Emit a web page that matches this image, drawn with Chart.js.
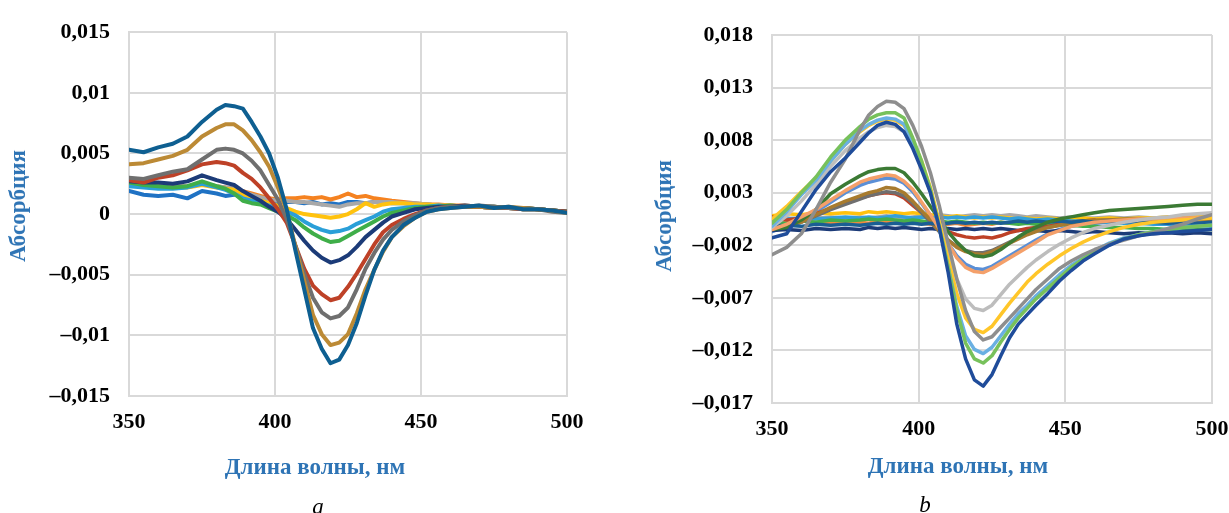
<!DOCTYPE html>
<html lang="ru">
<head>
<meta charset="utf-8">
<title>Абсорбция</title>
<script src="https://cdn.jsdelivr.net/npm/chart.js@4.4.1/dist/chart.umd.min.js"></script>
<style>
  html, body { margin: 0; padding: 0; background: #fff; }
  #page { position: relative; width: 1229px; height: 513px; overflow: hidden; }
  canvas { position: absolute; top: 0; }
  #chartA { left: 0; }
  #chartB { left: 614px; }
  .lbl { position: absolute; font-family: "Liberation Serif", serif; font-weight: bold; font-size: 23px;
         color: #2E74B5; white-space: nowrap; transform: translate(-50%, -50%); }
  .ylbl { transform: translate(-50%, -50%) rotate(-90deg); }
  .cap { position: absolute; font-family: "Liberation Serif", serif; font-style: italic; font-size: 23px;
         color: #000; transform: translate(-50%, -50%); }
</style>
</head>
<body>
<div id="page">
  <canvas id="chartA" width="614" height="513"></canvas>
  <canvas id="chartB" width="640" height="513"></canvas>
  <div class="lbl ylbl" style="left:18px; top:206px">Абсорбция</div>
  <div class="lbl" style="left:315px; top:467px">Длина волны, нм</div>
  <div class="cap" style="left:318px; top:507px">a</div>
  <div class="lbl ylbl" style="left:664px; top:216px">Абсорбция</div>
  <div class="lbl" style="left:958px; top:466px">Длина волны, нм</div>
  <div class="cap" style="left:925px; top:505px">b</div>
</div>
<script>
// ---------- SHARED X VALUES (nm) ----------
const wavelengths = [350, 355, 360, 365, 370, 375, 380, 383, 386, 389, 392, 395, 398, 401, 404, 407, 410, 413, 416, 419,
                     422, 425, 428, 431, 434, 437, 440, 444, 448, 452, 456, 460, 465, 470, 475, 480, 485, 490, 495, 500];
const xTicks = [350, 400, 450, 500];

// ---------- PANEL A ----------
const yTicksA = [-0.015, -0.01, -0.005, 0, 0.005, 0.01, 0.015];

const a1 = [0.0019, 0.0016, 0.0015, 0.0016, 0.0013, 0.0019, 0.0017, 0.0015, 0.0016, 0.0014, 0.0013, 0.0012, 0.0011, 0.0010, 0.0010, 0.0010, 0.0009, 0.0010, 0.0008, 0.0009,
            0.0008, 0.0010, 0.0010, 0.0009, 0.0010, 0.0010, 0.0009, 0.0009, 0.0008, 0.0008, 0.0007, 0.0007, 0.0006, 0.0006, 0.0005, 0.0005, 0.0004, 0.0004, 0.0003, 0.0002];
const a2 = [0.0025, 0.0024, 0.0024, 0.0023, 0.0023, 0.0025, 0.0023, 0.0022, 0.0021, 0.0019, 0.0017, 0.0015, 0.0013, 0.0012, 0.0013, 0.0013, 0.0014, 0.0013, 0.0014, 0.0012,
            0.0014, 0.0017, 0.0014, 0.0015, 0.0013, 0.0012, 0.0011, 0.0010, 0.0009, 0.0008, 0.0008, 0.0007, 0.0007, 0.0006, 0.0006, 0.0005, 0.0005, 0.0004, 0.0003, 0.0002];
const a3 = [0.0026, 0.0025, 0.0024, 0.0023, 0.0023, 0.0025, 0.0023, 0.0022, 0.0021, 0.0018, 0.0016, 0.0014, 0.0012, 0.0011, 0.0011, 0.0010, 0.0010, 0.0009, 0.0008, 0.0007,
            0.0006, 0.0008, 0.0009, 0.0009, 0.0010, 0.0010, 0.0010, 0.0009, 0.0009, 0.0008, 0.0007, 0.0007, 0.0006, 0.0006, 0.0005, 0.0005, 0.0004, 0.0004, 0.0003, 0.0002];
const a4 = [0.0025, 0.0024, 0.0023, 0.0022, 0.0022, 0.0024, 0.0022, 0.0021, 0.0020, 0.0016, 0.0013, 0.0011, 0.0009, 0.0007, 0.0005, 0.0002, 0.0000, -0.0001, -0.0002, -0.0003,
            -0.0002, 0.0000, 0.0004, 0.0009, 0.0006, 0.0008, 0.0009, 0.0009, 0.0008, 0.0008, 0.0007, 0.0007, 0.0006, 0.0006, 0.0005, 0.0005, 0.0004, 0.0004, 0.0003, 0.0002];
const a5 = [0.0023, 0.0022, 0.0021, 0.0021, 0.0022, 0.0025, 0.0022, 0.0020, 0.0017, 0.0013, 0.0011, 0.0009, 0.0007, 0.0004, 0.0002, -0.0001, -0.0006, -0.0010, -0.0013, -0.0015,
            -0.0014, -0.0012, -0.0008, -0.0005, -0.0002, 0.0002, 0.0004, 0.0005, 0.0006, 0.0006, 0.0007, 0.0006, 0.0006, 0.0006, 0.0005, 0.0005, 0.0004, 0.0004, 0.0003, 0.0002];
const a6 = [0.0026, 0.0024, 0.0023, 0.0022, 0.0023, 0.0027, 0.0023, 0.0021, 0.0017, 0.0011, 0.0009, 0.0008, 0.0005, 0.0002, -0.0001, -0.0005, -0.0011, -0.0016, -0.0020, -0.0023,
            -0.0022, -0.0018, -0.0014, -0.0010, -0.0006, -0.0002, 0.0001, 0.0003, 0.0005, 0.0006, 0.0006, 0.0007, 0.0006, 0.0006, 0.0006, 0.0005, 0.0005, 0.0004, 0.0003, 0.0002];
const a7 = [0.0027, 0.0026, 0.0026, 0.0025, 0.0027, 0.0032, 0.0028, 0.0026, 0.0024, 0.0019, 0.0015, 0.0011, 0.0006, 0.0002, -0.0004, -0.0013, -0.0022, -0.0030, -0.0036, -0.0040,
            -0.0038, -0.0034, -0.0027, -0.0019, -0.0013, -0.0007, -0.0002, 0.0001, 0.0004, 0.0005, 0.0006, 0.0006, 0.0007, 0.0006, 0.0006, 0.0005, 0.0005, 0.0004, 0.0003, 0.0002];
const a8 = [0.0028, 0.0026, 0.0030, 0.0032, 0.0036, 0.0041, 0.0043, 0.0042, 0.0040, 0.0034, 0.0029, 0.0022, 0.0013, 0.0004, -0.0007, -0.0026, -0.0045, -0.0059, -0.0066, -0.0071,
            -0.0069, -0.0060, -0.0049, -0.0037, -0.0025, -0.0015, -0.0009, -0.0004, 0.0000, 0.0003, 0.0005, 0.0006, 0.0006, 0.0006, 0.0005, 0.0005, 0.0004, 0.0004, 0.0003, 0.0002];
const a9 = [0.0030, 0.0029, 0.0032, 0.0035, 0.0037, 0.0045, 0.0053, 0.0054, 0.0053, 0.0050, 0.0044, 0.0036, 0.0024, 0.0012, -0.0004, -0.0026, -0.0049, -0.0069, -0.0081, -0.0086,
            -0.0084, -0.0077, -0.0062, -0.0045, -0.0032, -0.0021, -0.0013, -0.0006, -0.0001, 0.0003, 0.0005, 0.0006, 0.0006, 0.0007, 0.0006, 0.0005, 0.0005, 0.0004, 0.0002, 0.0001];
const a10 = [0.0041, 0.0042, 0.0045, 0.0048, 0.0053, 0.0064, 0.0071, 0.0074, 0.0074, 0.0069, 0.0061, 0.0051, 0.0039, 0.0022, 0.0003, -0.0027, -0.0055, -0.0083, -0.0099, -0.0108,
             -0.0106, -0.0099, -0.0082, -0.0062, -0.0046, -0.0031, -0.0019, -0.0010, -0.0003, 0.0002, 0.0004, 0.0005, 0.0006, 0.0006, 0.0005, 0.0006, 0.0005, 0.0004, 0.0003, 0.0001];
const a11 = [0.0053, 0.0051, 0.0055, 0.0058, 0.0064, 0.0076, 0.0086, 0.0090, 0.0089, 0.0087, 0.0076, 0.0064, 0.0050, 0.0030, 0.0004, -0.0030, -0.0062, -0.0094, -0.0111, -0.0123,
             -0.0120, -0.0108, -0.0090, -0.0067, -0.0046, -0.0030, -0.0019, -0.0009, -0.0003, 0.0002, 0.0004, 0.0005, 0.0006, 0.0007, 0.0005, 0.0006, 0.0004, 0.0004, 0.0003, 0.0001];

const seriesA = [a1, a2, a3, a4, a5, a6, a7, a8, a9, a10, a11];
const colorsA = ["#1F72C4", "#F58220", "#A8A8A8", "#FFC20E", "#2A9FD8", "#3FAE49",
                 "#1C3B78", "#BE4127", "#6F6F6F", "#BC8A35", "#0E5F91"];

// ---------- PANEL B ----------
const yTicksB = [-0.017, -0.012, -0.007, -0.002, 0.003, 0.008, 0.013, 0.018];

const b1 = [-0.0007, -0.0002, 0.0005, 0.0012, 0.0021, 0.0030, 0.0037, 0.0040, 0.0042, 0.0044, 0.0043, 0.0039, 0.0031, 0.0020, 0.0008, -0.0005, -0.0018, -0.0030, -0.0038, -0.0042,
            -0.0043, -0.0040, -0.0035, -0.0030, -0.0025, -0.0020, -0.0015, -0.0009, -0.0005, -0.0002, 0.0000, 0.0001, 0.0002, 0.0003, 0.0003, 0.0004, 0.0004, 0.0004, 0.0005, 0.0005];
const b2 = [0.0002, 0.0001, 0.0003, 0.0002, 0.0001, 0.0003, 0.0002, 0.0001, 0.0003, 0.0002, 0.0001, 0.0002, 0.0003, 0.0001, 0.0000, -0.0001, 0.0000, 0.0001, -0.0001, 0.0000,
            0.0001, 0.0000, 0.0002, 0.0001, 0.0002, 0.0003, 0.0002, 0.0003, 0.0004, 0.0003, 0.0004, 0.0004, 0.0005, 0.0004, 0.0005, 0.0004, 0.0005, 0.0005, 0.0004, 0.0005];
const b3 = [0.0005, 0.0006, 0.0005, 0.0006, 0.0007, 0.0006, 0.0007, 0.0006, 0.0007, 0.0008, 0.0007, 0.0006, 0.0007, 0.0008, 0.0008, 0.0009, 0.0008, 0.0007, 0.0008, 0.0009,
            0.0008, 0.0009, 0.0008, 0.0009, 0.0008, 0.0007, 0.0008, 0.0007, 0.0006, 0.0007, 0.0006, 0.0006, 0.0007, 0.0006, 0.0007, 0.0006, 0.0007, 0.0007, 0.0008, 0.0008];
const b4 = [0.0008, 0.0010, 0.0009, 0.0011, 0.0010, 0.0011, 0.0010, 0.0012, 0.0011, 0.0012, 0.0011, 0.0010, 0.0011, 0.0010, 0.0009, 0.0008, 0.0007, 0.0008, 0.0007, 0.0006,
            0.0007, 0.0006, 0.0007, 0.0006, 0.0005, 0.0006, 0.0005, 0.0006, 0.0005, 0.0005, 0.0006, 0.0005, 0.0006, 0.0005, 0.0006, 0.0006, 0.0007, 0.0006, 0.0007, 0.0007];
const b5 = [0.0004, 0.0005, 0.0006, 0.0005, 0.0006, 0.0007, 0.0006, 0.0007, 0.0006, 0.0007, 0.0008, 0.0007, 0.0006, 0.0007, 0.0006, 0.0007, 0.0006, 0.0007, 0.0006, 0.0007,
            0.0006, 0.0007, 0.0006, 0.0005, 0.0006, 0.0005, 0.0004, 0.0005, 0.0004, 0.0003, 0.0003, 0.0002, 0.0002, 0.0001, 0.0001, 0.0000, 0.0000, -0.0001, -0.0001, -0.0002];
const b6 = [0.0002, 0.0001, 0.0003, 0.0002, 0.0004, 0.0003, 0.0004, 0.0005, 0.0004, 0.0005, 0.0004, 0.0003, 0.0004, 0.0003, 0.0002, 0.0003, 0.0002, 0.0003, 0.0002, 0.0001,
            0.0002, 0.0001, 0.0002, 0.0001, 0.0000, 0.0001, 0.0000, -0.0001, 0.0000, -0.0001, -0.0002, -0.0002, -0.0003, -0.0003, -0.0004, -0.0004, -0.0005, -0.0004, -0.0005, -0.0005];
const b7 = [-0.0006, -0.0005, -0.0006, -0.0004, -0.0005, -0.0004, -0.0005, -0.0003, -0.0004, -0.0003, -0.0004, -0.0003, -0.0004, -0.0005, -0.0004, -0.0005, -0.0004, -0.0005, -0.0004, -0.0005,
            -0.0004, -0.0005, -0.0004, -0.0005, -0.0006, -0.0005, -0.0006, -0.0007, -0.0006, -0.0007, -0.0008, -0.0007, -0.0008, -0.0009, -0.0008, -0.0009, -0.0008, -0.0009, -0.0008, -0.0009];
const b8 = [0.0007, 0.0004, 0.0006, 0.0010, 0.0015, 0.0020, 0.0025, 0.0027, 0.0029, 0.0030, 0.0029, 0.0025, 0.0018, 0.0011, 0.0005, -0.0002, -0.0007, -0.0010, -0.0012, -0.0013,
            -0.0012, -0.0013, -0.0011, -0.0008, -0.0006, -0.0004, -0.0003, -0.0002, 0.0000, 0.0002, 0.0003, 0.0004, null, null, null, null, null, null, null, null];
const b9 = [-0.0003, -0.0002, 0.0002, 0.0008, 0.0014, 0.0019, 0.0024, 0.0027, 0.0029, 0.0031, 0.0030, 0.0027, 0.0020, 0.0011, 0.0002, -0.0007, -0.0015, -0.0021, -0.0025, -0.0027,
            -0.0027, -0.0025, -0.0021, -0.0017, -0.0013, -0.0009, -0.0006, -0.0003, -0.0001, 0.0001, 0.0002, 0.0003, 0.0004, 0.0004, 0.0004, 0.0005, 0.0004, 0.0005, 0.0004, 0.0004];
const b10 = [-0.0004, -0.0002, 0.0002, 0.0009, 0.0016, 0.0022, 0.0027, 0.0030, 0.0032, 0.0035, 0.0034, 0.0030, 0.0022, 0.0013, 0.0004, -0.0006, -0.0015, -0.0022, -0.0026, -0.0028,
             -0.0029, -0.0026, -0.0022, -0.0018, -0.0014, -0.0010, -0.0007, -0.0003, -0.0001, 0.0001, 0.0003, 0.0004, 0.0004, 0.0005, 0.0005, 0.0005, 0.0005, 0.0006, 0.0005, 0.0005];
const b11 = [-0.0002, -0.0001, -0.0002, 0.0000, -0.0001, 0.0000, -0.0001, 0.0000, 0.0001, 0.0000, 0.0001, 0.0000, 0.0001, 0.0000, 0.0001, 0.0000, 0.0001, 0.0002, 0.0001, 0.0002,
             0.0001, 0.0002, 0.0001, 0.0002, 0.0003, 0.0002, 0.0003, 0.0002, 0.0003, 0.0002, 0.0003, 0.0002, 0.0003, 0.0002, 0.0003, 0.0002, 0.0001, 0.0002, 0.0001, 0.0002];
const b12 = [-0.0005, -0.0003, 0.0004, 0.0014, 0.0029, 0.0038, 0.0046, 0.0050, 0.0052, 0.0053, 0.0053, 0.0049, 0.0040, 0.0029, 0.0017, 0.0005, -0.0007, -0.0017, -0.0025, -0.0030,
             -0.0031, -0.0029, -0.0024, -0.0018, -0.0012, -0.0007, -0.0003, 0.0002, 0.0005, 0.0007, 0.0009, 0.0011, 0.0013, 0.0014, 0.0015, 0.0016, 0.0017, 0.0018, 0.0019, 0.0019];
const b14 = [-0.0005, 0.0000, 0.0007, 0.0014, 0.0023, 0.0032, 0.0040, 0.0043, 0.0045, 0.0047, 0.0046, 0.0041, 0.0033, 0.0021, 0.0009, -0.0004, -0.0018, -0.0032, -0.0041, -0.0045,
             -0.0046, -0.0042, -0.0037, -0.0032, -0.0027, -0.0022, -0.0017, -0.0010, -0.0006, -0.0002, 0.0000, 0.0002, 0.0003, 0.0004, 0.0005, 0.0005, 0.0006, 0.0006, 0.0006, 0.0007];
const b15 = [-0.0003, 0.0008, 0.0022, 0.0038, 0.0055, 0.0070, 0.0082, 0.0088, 0.0092, 0.0094, 0.0093, 0.0088, 0.0074, 0.0055, 0.0031, 0.0003, -0.0025, -0.0052, -0.0071, -0.0080,
             -0.0082, -0.0077, -0.0067, -0.0057, -0.0049, -0.0041, -0.0034, -0.0026, -0.0019, -0.0013, -0.0008, -0.0004, -0.0001, 0.0002, 0.0004, 0.0006, 0.0007, 0.0009, 0.0010, 0.0011];
const b16 = [0.0005, 0.0017, 0.0031, 0.0044, 0.0060, 0.0076, 0.0088, 0.0094, 0.0098, 0.0100, 0.0099, 0.0094, 0.0080, 0.0060, 0.0035, 0.0002, -0.0032, -0.0066, -0.0089, -0.0100,
             -0.0103, -0.0097, -0.0086, -0.0075, -0.0065, -0.0055, -0.0047, -0.0038, -0.0030, -0.0023, -0.0017, -0.0012, -0.0007, -0.0003, 0.0000, 0.0002, 0.0003, 0.0004, 0.0005, 0.0006];
const b17 = [-0.0002, 0.0012, 0.0028, 0.0042, 0.0060, 0.0076, 0.0089, 0.0095, 0.0099, 0.0101, 0.0100, 0.0095, 0.0078, 0.0057, 0.0031, -0.0003, -0.0040, -0.0078, -0.0106, -0.0119,
             -0.0123, -0.0117, -0.0106, -0.0095, -0.0085, -0.0077, -0.0068, -0.0058, -0.0048, -0.0039, -0.0032, -0.0025, -0.0018, -0.0013, -0.0010, -0.0007, -0.0005, -0.0003, -0.0002, -0.0001];
const b18 = [0.0001, 0.0014, 0.0030, 0.0045, 0.0064, 0.0080, 0.0093, 0.0100, 0.0104, 0.0106, 0.0106, 0.0101, 0.0082, 0.0060, 0.0033, -0.0002, -0.0040, -0.0082, -0.0113, -0.0128,
             -0.0132, -0.0125, -0.0112, -0.0100, -0.0089, -0.0080, -0.0071, -0.0061, -0.0051, -0.0041, -0.0033, -0.0026, -0.0019, -0.0014, -0.0010, -0.0007, -0.0005, -0.0003, -0.0002, -0.0001];
const b19 = [-0.0029, -0.0022, -0.0009, 0.0014, 0.0040, 0.0062, 0.0090, 0.0104, 0.0112, 0.0117, 0.0116, 0.0110, 0.0094, 0.0074, 0.0049, 0.0018, -0.0018, -0.0052, -0.0082, -0.0102,
             -0.0110, -0.0107, -0.0098, -0.0089, -0.0080, -0.0071, -0.0062, -0.0052, -0.0042, -0.0035, -0.0029, -0.0024, -0.0019, -0.0015, -0.0011, -0.0008, -0.0004, 0.0000, 0.0005, 0.0009];
const b20 = [-0.0013, -0.0009, 0.0012, 0.0033, 0.0050, 0.0063, 0.0078, 0.0087, 0.0094, 0.0097, 0.0095, 0.0088, 0.0072, 0.0052, 0.0030, -0.0003, -0.0045, -0.0095, -0.0128, -0.0148,
             -0.0154, -0.0143, -0.0125, -0.0108, -0.0095, -0.0086, -0.0077, -0.0066, -0.0054, -0.0044, -0.0035, -0.0028, -0.0020, -0.0014, -0.0011, -0.0009, -0.0008, -0.0007, -0.0006, -0.0005];

const seriesB = [b1, b2, b3, b4, b5, b6, b7, b8, b9, b10, b11, b12, b14, b15, b16, b17, b18, b19, b20];
const colorsB = ["#5A8FD6", "#F08A3C", "#A9A9A9", "#FFC20E", "#33A0DA", "#45AE4B", "#1C3B78", "#BE4127",
                 "#6F6F6F", "#A87B2E", "#1A5E94", "#3B7A34", "#F4A06A", "#BDBDBD", "#FFC629", "#6AB0E2",
                 "#77C15B", "#8E8E8E", "#1F4C9A"];

// ---------- HELPERS ----------
const tickFont = { family: "Liberation Serif", size: 22, weight: "bold" };
const gridColor = "#D9D9D9";

function fmt(v) {
    return String(v).replace(".", ",").replace("-", "\u2013");
}

function buildDatasets(series, colors, width) {
    // last series sits on top, as in the spreadsheet original
    return series.map((values, i) => ({
        data: wavelengths.map((x, j) => ({ x, y: values[j] })),
        borderColor: colors[i],
        borderWidth: width,
        pointRadius: 0,
        tension: 0,
        spanGaps: false,
        borderJoinStyle: "round",
        borderCapStyle: "round",
        order: series.length - i
    }));
}

function renderPanel(id, series, colors, yTicks, box) {
    const ctx = document.getElementById(id).getContext("2d");
    return new Chart(ctx, {
        type: "line",
        data: { datasets: buildDatasets(series, colors, box.line) },
        options: {
            responsive: false,
            animation: false,
            devicePixelRatio: 1,
            layout: { padding: { left: 0, right: box.right, top: box.top, bottom: 0 } },
            plugins: { legend: { display: false }, tooltip: { enabled: false } },
            scales: {
                x: {
                    type: "linear",
                    min: xTicks[0],
                    max: xTicks[xTicks.length - 1],
                    afterBuildTicks: s => { s.ticks = xTicks.map(v => ({ value: v })); },
                    afterFit: s => { s.height = box.xHeight; },
                    grid: { color: gridColor, lineWidth: 2, drawTicks: false },
                    border: { color: gridColor, width: 2 },
                    ticks: { padding: 13, color: "#000", font: tickFont, maxRotation: 0, autoSkip: false }
                },
                y: {
                    type: "linear",
                    min: yTicks[0],
                    max: yTicks[yTicks.length - 1],
                    afterBuildTicks: s => { s.ticks = yTicks.map(v => ({ value: v })); },
                    afterFit: s => { s.width = box.yWidth; },
                    grid: { color: gridColor, lineWidth: 2, drawTicks: false },
                    border: { color: gridColor, width: 2 },
                    ticks: { padding: 19, color: "#000", font: tickFont, autoSkip: false, callback: v => fmt(v) }
                }
            }
        }
    });
}

renderPanel("chartA", seriesA, colorsA, yTicksA, { top: 24, right: 47, xHeight: 117, yWidth: 129, line: 4 });
renderPanel("chartB", seriesB, colorsB, yTicksB, { top: 35, right: 42, xHeight: 110, yWidth: 158, line: 3.5 });
</script>
</body>
</html>
